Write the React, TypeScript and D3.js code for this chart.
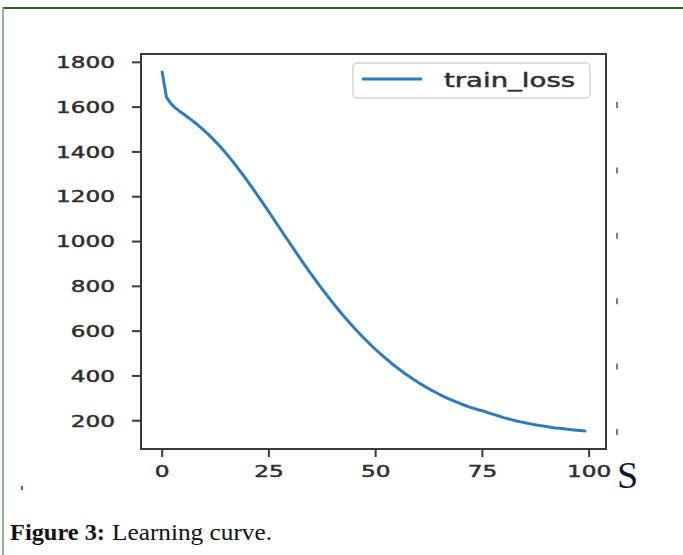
import React from 'react';
import * as d3 from 'd3';

// train loss per epoch
const epochs = d3.range(0, 100);
const trainLoss = [
  1757, 1645, 1617, 1598, 1583, 1569, 1555, 1541, 1526, 1510,
  1493, 1475, 1456, 1436, 1415, 1393, 1370, 1346, 1321, 1296,
  1270, 1243, 1216, 1188, 1160, 1132, 1104, 1075, 1047, 1018,
  990, 962, 934, 906, 879, 852, 826, 800, 775, 750,
  726, 702, 679, 657, 635, 614, 594, 574, 555, 536,
  518, 501, 484, 468, 452, 437, 423, 409, 396, 383,
  371, 359, 348, 337, 327, 317, 308, 299, 291, 283,
  275, 268, 261, 255, 249, 245, 238, 232, 226, 220,
  214, 209, 204, 199, 195, 191, 187, 183, 180, 177,
  174, 171, 168, 166, 164, 162, 160, 158, 156, 154,
];
const xTicks = [0, 25, 50, 75, 100];
const yTicks = [200, 400, 600, 800, 1000, 1200, 1400, 1600, 1800];
const seriesName = 'train_loss';
const caption = ['Figure 3:', 'Learning curve.'];

const W = 683;
const H = 555;
const frame = { left: 141, right: 606, top: 54, bottom: 449 };
const SX = 1.45; // the source image is stretched sideways
const lineColor = '#2e7cbc';
const axisColor = '#3a3a3a';
const labelColor = '#2e2e2e';

export default function App() {
  // matplotlib style 5% margins
  const xPad = (d3.max(epochs)! - d3.min(epochs)!) * 0.05;
  const x = d3.scaleLinear()
    .domain([d3.min(epochs)! - xPad, d3.max(epochs)! + xPad])
    .range([frame.left, frame.right]);
  const yMin = d3.min(trainLoss)!;
  const yMax = d3.max(trainLoss)!;
  const yPad = (yMax - yMin) * 0.05;
  const y = d3.scaleLinear()
    .domain([yMin - yPad, yMax + yPad])
    .range([frame.bottom, frame.top]);

  const line = d3.line<number>()
    .x((_, i) => x(epochs[i]))
    .y(d => y(d));

  // stray marks to the right of the plot in the scan
  const markY = d3.scaleLinear().domain([0, 5]).range([105, 432]);

  const labelStyle = { stroke: labelColor, strokeWidth: 0.45 };

  return (
    <svg width={W} height={H} style={{ position: 'absolute', left: 0, top: 0, background: '#fff' }}>
      <rect width={W} height={H} fill="#fff" />
      {/* page border */}
      <line x1={3} x2={W} y1={8} y2={8} stroke="#35592a" strokeWidth={2} />
      <line x1={3} x2={3} y1={7} y2={H} stroke="#7c9470" strokeWidth={1.5} />

      {/* data line */}
      <path d={line(trainLoss) ?? ''} fill="none" stroke={lineColor} strokeWidth={3} strokeLinejoin="round" strokeLinecap="round" />

      {/* frame */}
      <rect x={frame.left} y={frame.top} width={frame.right - frame.left} height={frame.bottom - frame.top}
        fill="none" stroke={axisColor} strokeWidth={2} />

      {/* y axis */}
      {yTicks.map(t => (
        <g key={'y' + t}>
          <line x1={frame.left - 9} x2={frame.left} y1={y(t)} y2={y(t)} stroke={axisColor} strokeWidth={2} />
          <text transform={`translate(115,${y(t)}) scale(${SX},1)`} dy="0.36em" textAnchor="end"
            fontFamily="DejaVu Sans" fontSize={16} fill={labelColor} style={labelStyle}>{t}</text>
        </g>
      ))}

      {/* x axis */}
      {xTicks.map(t => (
        <g key={'x' + t}>
          <line x1={x(t)} x2={x(t)} y1={frame.bottom} y2={frame.bottom + 8} stroke={axisColor} strokeWidth={2} />
          <text transform={`translate(${x(t)},477) scale(${SX},1)`} textAnchor="middle"
            fontFamily="DejaVu Sans" fontSize={16} fill={labelColor} style={labelStyle}>{t}</text>
        </g>
      ))}

      {/* legend */}
      <rect x={353} y={63} width={237} height={35} rx={4} fill="#fff" stroke="#d4d4d4" strokeWidth={1.5} />
      <line x1={362} x2={422} y1={79} y2={79} stroke={lineColor} strokeWidth={3} />
      <text transform={`translate(444,87) scale(${SX},1)`} fontFamily="DejaVu Sans" fontSize={19}
        fill={labelColor} style={labelStyle}>{seriesName}</text>

      {d3.range(6).map(i => (
        <line key={'m' + i} x1={617} x2={617} y1={markY(i) - 3} y2={markY(i) + 3} stroke="#555" strokeWidth={1.5} />
      ))}
      <rect x={21} y={486} width={2} height={4} fill="#3a62a8" />

      <text x={617} y={488} fontFamily="Liberation Serif" fontSize={38} fill="#111833">S</text>

      {/* caption */}
      <text x={10} y={540} fontFamily="Liberation Serif" fontSize={23} fontWeight="bold" fill="#111"
        textLength={95} lengthAdjust="spacingAndGlyphs">{caption[0]}</text>
      <text x={112} y={540} fontFamily="Liberation Serif" fontSize={23} fill="#111"
        textLength={160} lengthAdjust="spacingAndGlyphs">{caption[1]}</text>
    </svg>
  );
}
